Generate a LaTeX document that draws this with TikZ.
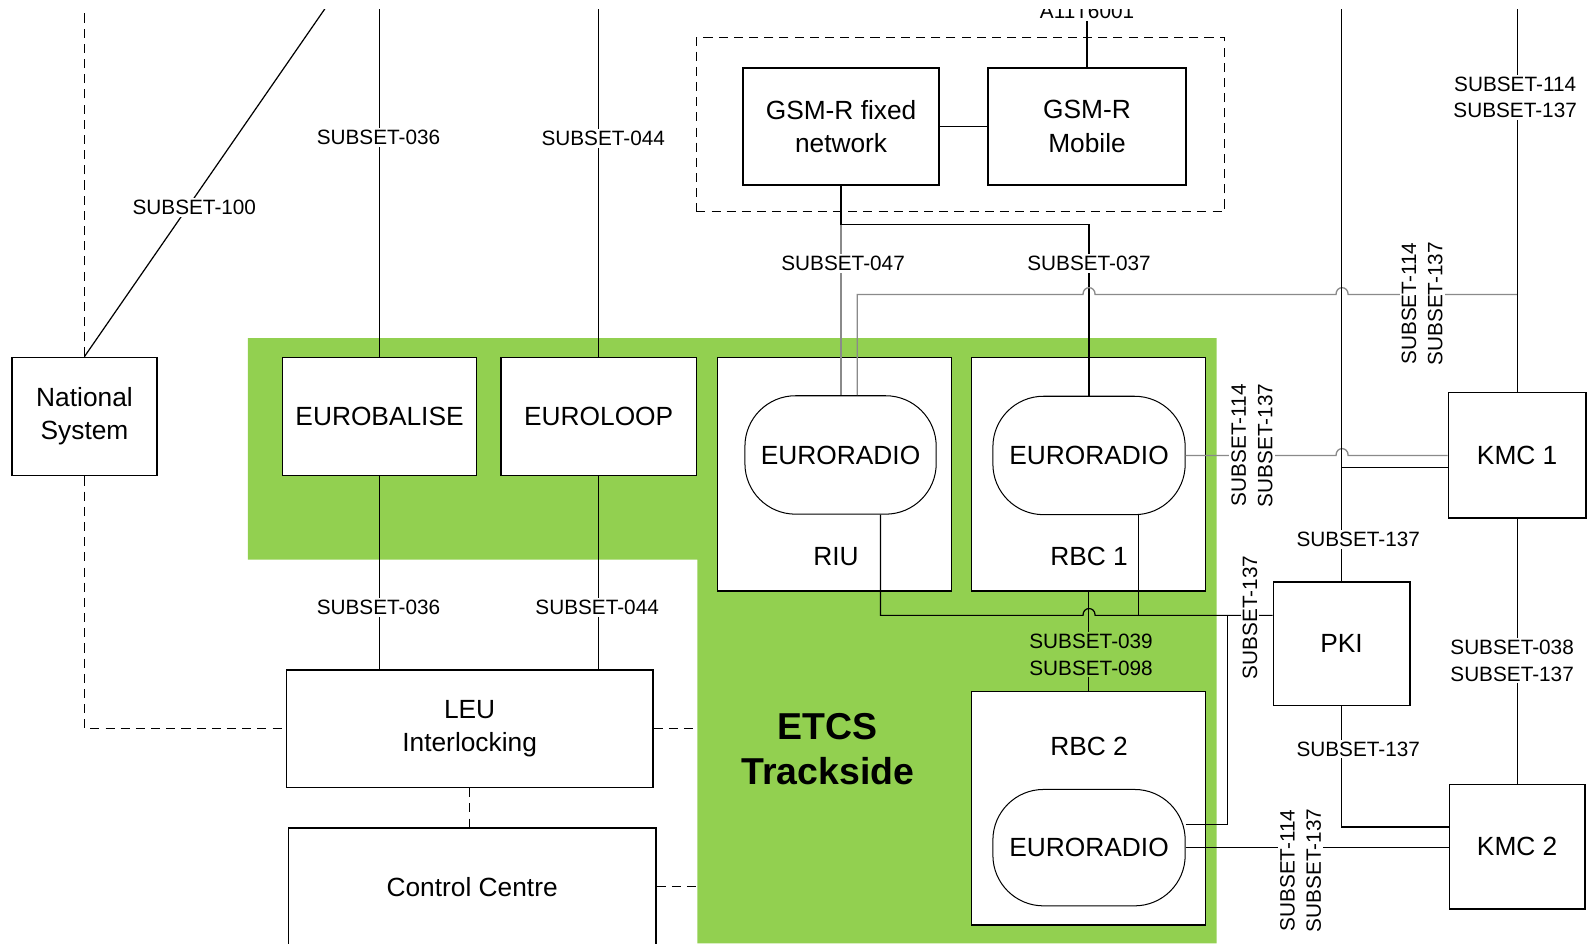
\documentclass[tikz,border=0pt]{standalone}
\usepackage{fontspec}
\setmainfont{Liberation Sans}
\usetikzlibrary{positioning}

\definecolor{trackgreen}{HTML}{92D050}
\definecolor{wiregray}{HTML}{8A8A8A}

\tikzset{
  unit/.style 2 args={rectangle, draw, line width=1.5pt, fill=white, inner sep=0pt,
    align=center, minimum width=#1, minimum height=#2, font=\fontsize{26}{33}\selectfont},
  radio/.style 2 args={unit={#1}{#2}, rounded corners=50pt, line width=1pt},
  caption/.style={inner sep=0pt, font=\fontsize{26}{33}\selectfont},
  wire/.style={line width=1.2pt},
  greywire/.style={line width=1.3pt, draw=wiregray},
  dashwire/.style={line width=1.5pt, dash pattern=on 9pt off 6pt},
  subset/.style={fill=white, inner sep=2pt, align=center, font=\fontsize{20.5}{26}\selectfont},
}

\begin{document}
\begin{tikzpicture}[x=1pt,y=-1pt]
\useasboundingbox (0,0) rectangle (1568,932);
\fill[white] (0,0) rectangle (1568,932);
\clip (0,9.5) rectangle (1568,932);

% ETCS trackside area
\fill[trackgreen] (245,334) -| (1202,932) -| (689,553) -- (245,553) -- cycle;
\coordinate (greenedge) at (689,553);
\node[font=\bfseries\fontsize{37}{45}\selectfont, align=center] (etcs) at (818,740) {ETCS\\Trackside};

% units
\node[unit={143pt}{117pt}] (natl) at (83.5,411.5) {National\\System};
\node[unit={192pt}{117pt}] (balise) at (375,411.5) {EUROBALISE};
\node[unit={193pt}{117pt}] (loop) at (591.5,411.5) {EUROLOOP};
\node[unit={231pt}{231pt}] (riu) at (824.5,468.5) {};
\node[unit={231pt}{231pt}] (rbc1) at (1075.5,468.5) {};
\node[unit={231pt}{231pt}] (rbc2) at (1075.5,798.5) {};
\node[caption] (riulbl) at (826,550) {RIU};
\node[caption] (rbc1lbl) at (1076,550) {RBC 1};
\node[caption] (rbc2lbl) at (1076,737) {RBC 2};
\node[radio={189pt}{117pt}] (radioA) at (830.5,449.5) {EURORADIO};
\node[radio={190pt}{117pt}] (radioB) at (1076,450) {EURORADIO};
\node[radio={190pt}{115pt}] (radioC) at (1076,837.5) {EURORADIO};
\node[draw, dashwire, minimum width=522pt, minimum height=172pt] (gsm) at (949,123) {};
\node[unit={194pt}{116pt}] (fixed) at (831,125) {GSM-R fixed\\network};
\node[unit={196pt}{116pt}] (mobile) at (1074,125) {GSM-R\\Mobile};
\node[unit={362pt}{116pt}] (leu) at (464,720) {LEU\\Interlocking};
\node[unit={363pt}{116pt}] (cc) at (466.5,876) {Control Centre};
\node[unit={135pt}{122pt}] (pki) at (1325.5,636) {PKI};
\node[unit={136pt}{124pt}] (kmc1) at (1499,450) {KMC 1};
\node[unit={134pt}{123pt}] (kmc2) at (1499,836.5) {KMC 2};
\node[subset, anchor=base] (a11) at (mobile.north |- 0,18.5) {A11T6001};

% national side and interlocking
\draw[dashwire] (natl.north) -- (natl.north |- 0,0);
\draw[dashwire] (natl.south) |- (leu.west);
\draw[wire] (natl.north) -- (327,0);
\draw[wire] (balise.north) -- (balise.north |- 0,0);
\draw[wire] (loop.north) -- (loop.north |- 0,0);
\draw[wire] (balise.south) -- (balise.south |- leu.north);
\draw[wire] (loop.south) -- (loop.south |- leu.north);
\draw[dashwire] (leu.east) -- (leu.east -| greenedge);
\draw[dashwire] (cc.east) -- (cc.east -| greenedge);
\draw[dashwire] (leu.south) -- (leu.south |- cc.north);

% radio network
\draw[wire] (fixed.east) -- (mobile.west);
\draw[wire] (mobile.north) -- (a11.south);
\draw[greywire] (fixed.south) -- (fixed.south |- radioA.north);
\draw[wire] (fixed.south) |- (radioB.north |- 0,222) -- (radioB.north);
\draw[greywire] ([xshift=16.5pt]radioA.north) |- (1070,291)
  .. controls (1070,282) and (1082,282) .. (1082,291) -- (1320,291)
  .. controls (1320,282) and (1332,282) .. (1332,291) -- (kmc1.north |- 0,291);

% key management
\draw[wire] (kmc1.north) -- (kmc1.north |- 0,0);
\draw[wire] (kmc1.south) -- (kmc2.north);
\draw[greywire] (radioB.east) -- (1320,450)
  .. controls (1320,441) and (1332,441) .. (1332,450) -- (kmc1.west);
\draw[wire] (pki.north) -- (pki.north |- 0,0);
\draw[wire] ([yshift=-12pt]kmc1.west) -- ([yshift=-12pt]kmc1.west -| pki.north);
\draw[wire] (pki.south) |- ([yshift=19.5pt]kmc2.west);
\draw[wire] (radioC.east) -- (radioC.east -| kmc2.west);
\draw[wire] ([xshift=39.5pt]radioA.south) |- (1070,608)
  .. controls (1070,599) and (1082,599) .. (1082,608) -- ([yshift=28pt]pki.west);
\draw[wire] ([xshift=49pt]radioB.south) -- ([xshift=49pt]radioB.south |- 0,608);
\draw[wire] ([yshift=22.5pt]radioC.east) -| (1213,608);
\draw[wire] (rbc1.south) -- (rbc2.north);

% interface labels
\node[subset] (s100) at (192,205) {SUBSET-100};
\node[subset] (s036a) at (374,136) {SUBSET-036};
\node[subset] (s044a) at (596,137) {SUBSET-044};
\node[subset] (s036b) at (374,600) {SUBSET-036};
\node[subset] (s044b) at (590,600) {SUBSET-044};
\node[subset] (s047) at (833,260) {SUBSET-047};
\node[subset] (s037) at (1076,260) {SUBSET-037};
\node[subset, rotate=90] (skmca) at (1405,300) {SUBSET-114\\SUBSET-137};
\node[subset] (skmctop) at (1497,96) {SUBSET-114\\SUBSET-137};
\node[subset, rotate=90] (skmcb) at (1237,440) {SUBSET-114\\SUBSET-137};
\node[subset] (spkia) at (1342,533) {SUBSET-137};
\node[subset, rotate=90] (spkib) at (1235,610) {SUBSET-137};
\node[subset, fill=trackgreen] (srbc) at (1078,647) {SUBSET-039\\SUBSET-098};
\node[subset] (skmcmid) at (1494,653) {SUBSET-038\\SUBSET-137};
\node[subset] (spkic) at (1342,740) {SUBSET-137};
\node[subset, rotate=90] (skmcc) at (1285,860) {SUBSET-114\\SUBSET-137};
\end{tikzpicture}
\end{document}
